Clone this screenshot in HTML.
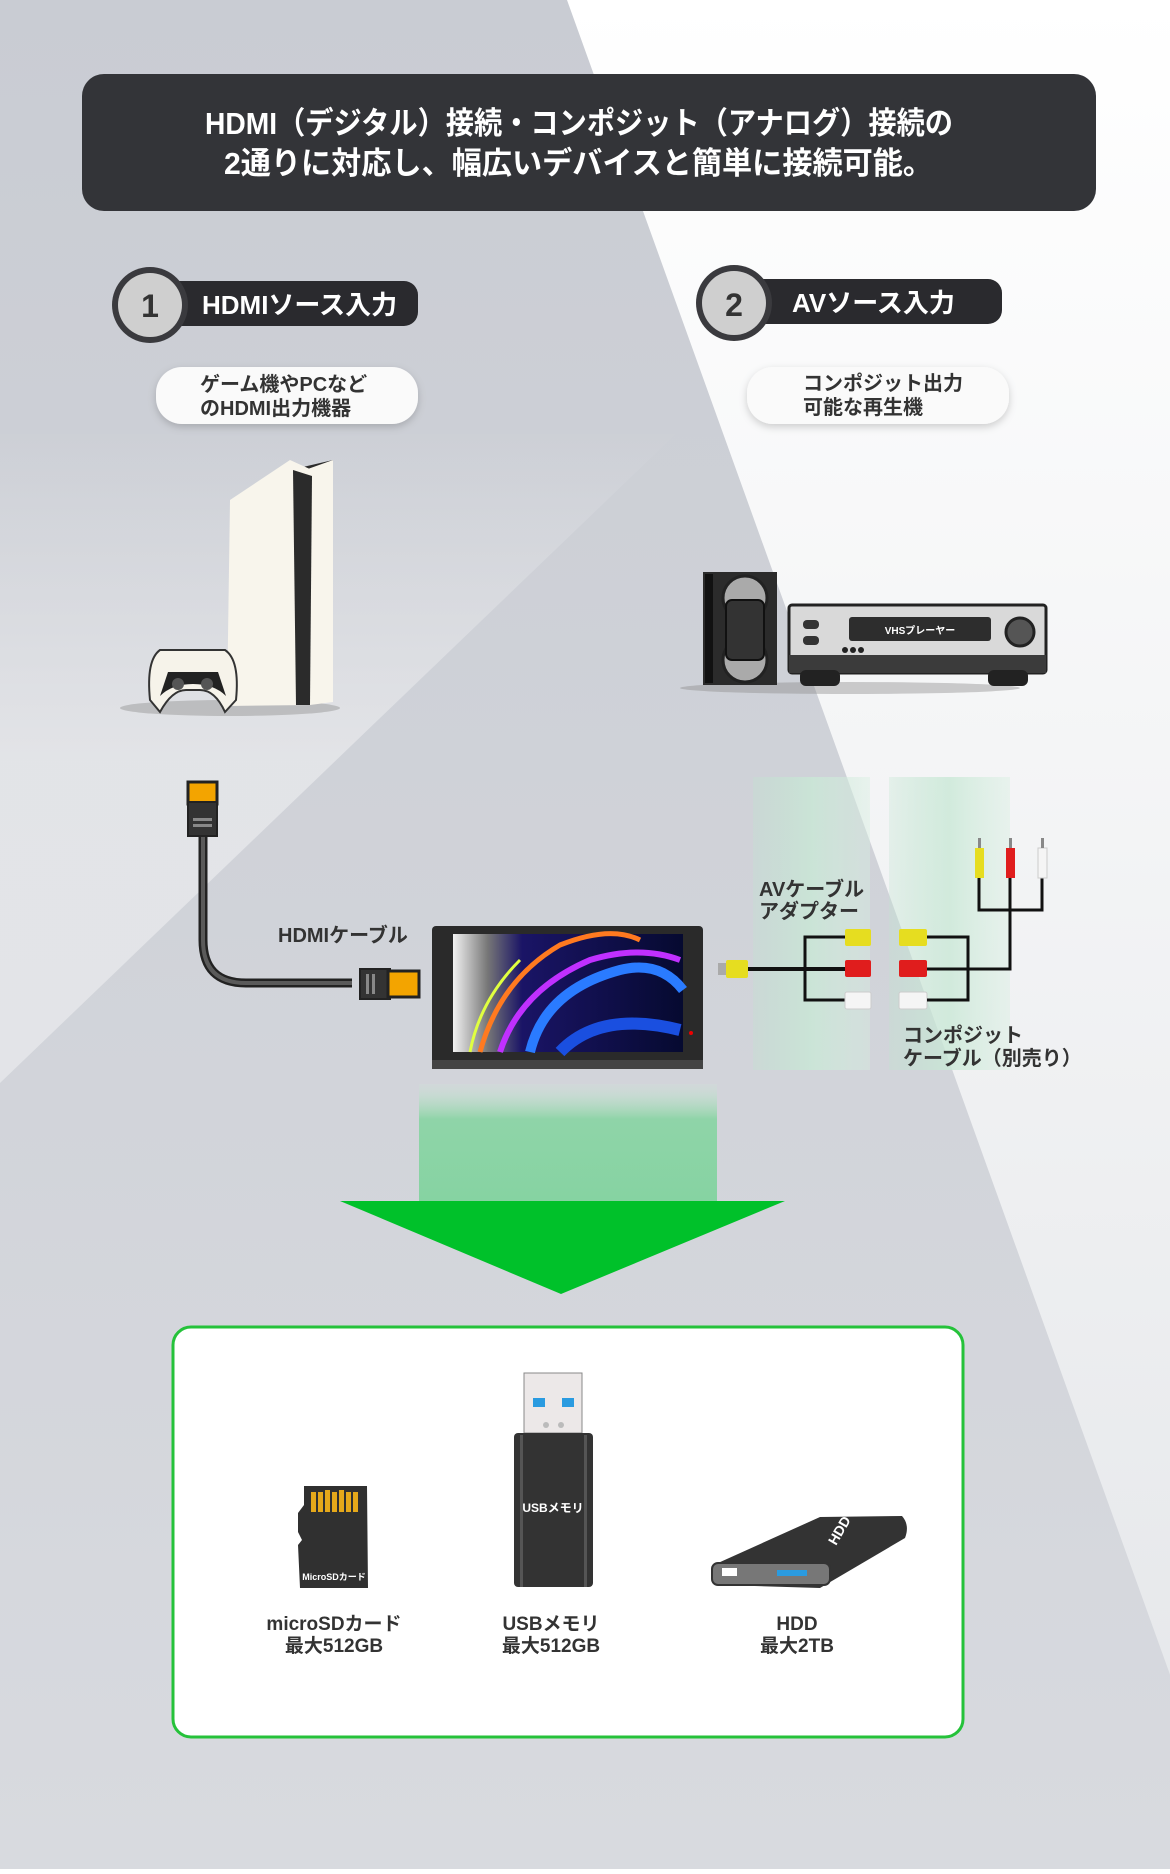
<!DOCTYPE html>
<html><head><meta charset="utf-8">
<style>
html,body{margin:0;padding:0;}
body{width:1170px;height:1869px;overflow:hidden;}
svg text{font-family:"Liberation Sans","Noto Sans CJK JP",sans-serif;font-weight:bold;}
</style></head>
<body>
<svg width="1170" height="1869" viewBox="0 0 1170 1869" xmlns="http://www.w3.org/2000/svg">
<defs>
<linearGradient id="bgL" x1="0" y1="0" x2="0" y2="1">
<stop offset="0" stop-color="#c9ccd3"/><stop offset="1" stop-color="#d8dadf"/></linearGradient>
<linearGradient id="bgR" x1="0" y1="0" x2="0" y2="1">
<stop offset="0" stop-color="#ffffff"/><stop offset="1" stop-color="#e4e6e9"/></linearGradient>
<linearGradient id="lw" x1="0" y1="430" x2="0" y2="760" gradientUnits="userSpaceOnUse">
<stop offset="0" stop-color="#e6e7ea" stop-opacity="0"/><stop offset="1" stop-color="#e6e7ea" stop-opacity="0.85"/></linearGradient>
<linearGradient id="grn" x1="0" y1="0" x2="0" y2="1">
<stop offset="0" stop-color="#cfe6d8" stop-opacity="0.2"/><stop offset="0.3" stop-color="#8fd4a8"/><stop offset="1" stop-color="#86d3a2"/></linearGradient>
<linearGradient id="pan" x1="0" y1="0" x2="1" y2="0">
<stop offset="0" stop-color="#bfe4cf" stop-opacity="0.3"/><stop offset="0.5" stop-color="#c9e8d6" stop-opacity="0.8"/><stop offset="1" stop-color="#d6eee0" stop-opacity="0.4"/></linearGradient>
<linearGradient id="scr" x1="0" y1="0" x2="1" y2="0">
<stop offset="0" stop-color="#f2f2f2"/><stop offset="0.15" stop-color="#777"/><stop offset="0.3" stop-color="#1a1466"/><stop offset="1" stop-color="#060a30"/></linearGradient>
<filter id="sh" x="-20%" y="-30%" width="140%" height="170%"><feDropShadow dx="0" dy="3" stdDeviation="4" flood-color="#000" flood-opacity="0.18"/></filter>
</defs>
<rect width="1170" height="1869" fill="url(#bgL)"/>
<polygon points="567,0 1170,0 1170,1869 1240,1869" fill="url(#bgR)"/>
<polygon points="0,1083 680,430 0,430" fill="url(#lw)"/>

<!-- title -->
<rect x="82" y="74" width="1014" height="137" rx="22" fill="#333438"/>
<text x="205" y="134" font-size="31" fill="#fff" textLength="748" lengthAdjust="spacingAndGlyphs">HDMI（デジタル）接続・コンポジット（アナログ）接続の</text>
<text x="224" y="174" font-size="31" fill="#fff" textLength="709" lengthAdjust="spacingAndGlyphs">2通りに対応し、幅広いデバイスと簡単に接続可能。</text>

<!-- badge 1 -->
<rect x="150" y="281" width="268" height="45" rx="14" fill="#2a2a2e"/>
<circle cx="150" cy="305" r="38" fill="#3a3a3e"/>
<circle cx="150" cy="305" r="32" fill="#cfcfcf"/>
<text x="150" y="317" font-size="32" fill="#333" text-anchor="middle" font-weight="normal">1</text>
<text x="202" y="314" font-size="26" fill="#fff">HDMIソース入力</text>
<!-- badge 2 -->
<rect x="734" y="279" width="268" height="45" rx="14" fill="#2a2a2e"/>
<circle cx="734" cy="303" r="38" fill="#3a3a3e"/>
<circle cx="734" cy="303" r="32" fill="#cfcfcf"/>
<text x="734" y="316" font-size="32" fill="#333" text-anchor="middle">2</text>
<text x="792" y="312" font-size="26" fill="#fff">AVソース入力</text>

<!-- pills -->
<rect x="156" y="367" width="262" height="57" rx="26" fill="#fafafa" filter="url(#sh)"/>
<text x="200" y="391" font-size="20" fill="#333">ゲーム機やPCなど</text>
<text x="200" y="415" font-size="20" fill="#333">のHDMI出力機器</text>
<rect x="747" y="367" width="262" height="57" rx="26" fill="#fafafa" filter="url(#sh)"/>
<text x="803" y="390" font-size="20" fill="#333">コンポジット出力</text>
<text x="803" y="414" font-size="20" fill="#333">可能な再生機</text>

<!-- PS5 -->
<ellipse cx="230" cy="708" rx="110" ry="8" fill="#999" opacity="0.5"/>
<polygon points="290,470 333,460 330,702 300,705" fill="#2b2b2b"/>
<polygon points="230,500 290,460 312,470 310,705 227,706" fill="#f8f5ec"/>
<polygon points="305,470 333,460 333,702 310,705" fill="#f8f5ec"/>
<polygon points="293,470 312,476 310,705 296,705" fill="#2b2b2b"/>
<path d="M150,700 Q146,660 160,650 L225,650 Q240,660 236,700 L225,712 Q215,690 200,690 L186,690 Q172,690 160,712 Z" fill="#f6f3ea" stroke="#333" stroke-width="2"/>
<path d="M168,672 L218,672 L226,696 Q214,684 193,684 Q172,684 160,696 Z" fill="#222"/>
<circle cx="178" cy="684" r="6" fill="#555"/><circle cx="207" cy="684" r="6" fill="#555"/>

<!-- VHS tape -->
<ellipse cx="850" cy="688" rx="170" ry="6" fill="#888" opacity="0.4"/>
<rect x="703" y="572" width="74" height="113" fill="#2b2b2b"/>
<rect x="705" y="574" width="8" height="109" fill="#111"/>
<ellipse cx="745" cy="598" rx="22" ry="22" fill="#aaa" stroke="#222" stroke-width="3"/>
<ellipse cx="745" cy="660" rx="22" ry="22" fill="#aaa" stroke="#222" stroke-width="3"/>
<rect x="726" y="600" width="38" height="60" rx="6" fill="#333" stroke="#111" stroke-width="2"/>
<!-- VHS player -->
<rect x="789" y="605" width="257" height="68" rx="3" fill="#d9d9d9" stroke="#222" stroke-width="3"/>
<rect x="789" y="655" width="257" height="18" fill="#3b3b3b"/>
<rect x="800" y="670" width="40" height="16" rx="6" fill="#222"/><rect x="988" y="670" width="40" height="16" rx="6" fill="#222"/>
<rect x="849" y="617" width="142" height="24" rx="3" fill="#2d2d2d"/>
<text x="920" y="634" font-size="10" fill="#fff" text-anchor="middle">VHSプレーヤー</text>
<rect x="803" y="620" width="16" height="9" rx="4" fill="#333"/><rect x="803" y="636" width="16" height="9" rx="4" fill="#333"/>
<circle cx="845" cy="650" r="3" fill="#222"/><circle cx="853" cy="650" r="3" fill="#222"/><circle cx="861" cy="650" r="3" fill="#222"/>
<circle cx="1020" cy="632" r="14" fill="#555" stroke="#222" stroke-width="3"/>

<!-- AV panels -->
<rect x="753" y="777" width="117" height="293" fill="url(#pan)"/>
<rect x="889" y="777" width="121" height="293" fill="url(#pan)"/>

<!-- HDMI cable -->
<path d="M203,834 L203,940 Q203,983 246,983 L352,983" fill="none" stroke="#222" stroke-width="9"/>
<path d="M203,834 L203,940 Q203,983 246,983 L352,983" fill="none" stroke="#5a5a5a" stroke-width="4"/>
<rect x="188" y="782" width="29" height="22" fill="#f3a400" stroke="#222" stroke-width="3"/>
<rect x="188" y="802" width="29" height="34" fill="#333" stroke="#222" stroke-width="2"/>
<rect x="193" y="818" width="19" height="3" fill="#888"/><rect x="193" y="824" width="19" height="3" fill="#888"/>
<rect x="360" y="969" width="30" height="30" fill="#333" stroke="#222" stroke-width="2"/>
<rect x="388" y="971" width="31" height="26" fill="#f3a400" stroke="#222" stroke-width="3"/>
<rect x="366" y="974" width="3" height="20" fill="#888"/><rect x="372" y="974" width="3" height="20" fill="#888"/>
<text x="278" y="942" font-size="20" fill="#333" font-weight="normal">HDMIケーブル</text>

<!-- monitor -->
<rect x="432" y="926" width="271" height="143" rx="4" fill="#2a2a2a"/>
<rect x="432" y="1060" width="271" height="9" fill="#444"/>
<rect x="453" y="934" width="230" height="118" fill="url(#scr)"/>
<path d="M480,1052 Q500,980 560,945 Q610,925 640,940" fill="none" stroke="#ff7a20" stroke-width="5"/>
<path d="M500,1052 Q520,990 590,960 Q640,945 680,960" fill="none" stroke="#c030ff" stroke-width="6"/>
<path d="M530,1052 Q545,990 620,970 Q660,960 683,990" fill="none" stroke="#2a7bff" stroke-width="10"/>
<path d="M470,1052 Q480,1000 520,960" fill="none" stroke="#e0ff40" stroke-width="3"/>
<path d="M560,1052 Q600,1010 680,1030" fill="none" stroke="#1a4fe0" stroke-width="12"/>
<circle cx="691" cy="1033" r="2" fill="#e00"/>

<!-- AV adapter -->
<path d="M735,969 L850,969" stroke="#111" stroke-width="4"/>
<path d="M850,937 L805,937 L805,1000 L850,1000" fill="none" stroke="#111" stroke-width="3"/>
<path d="M810,969 L850,969" stroke="#111" stroke-width="3"/>
<rect x="718" y="963" width="8" height="12" fill="#aaa"/><rect x="726" y="960" width="22" height="18" rx="2" fill="#e6dd20"/>
<rect x="845" y="929" width="26" height="17" rx="2" fill="#e6dd20"/>
<rect x="845" y="960" width="26" height="17" rx="2" fill="#e01d1d"/>
<rect x="845" y="992" width="26" height="17" rx="2" fill="#f5f5f5" stroke="#ccc"/>
<text x="759" y="896" font-size="20" fill="#333" font-weight="normal">AVケーブル</text>
<text x="759" y="918" font-size="20" fill="#333" font-weight="normal">アダプター</text>
<!-- composite cable -->
<rect x="899" y="929" width="28" height="17" rx="2" fill="#e6dd20"/>
<rect x="899" y="960" width="28" height="17" rx="2" fill="#e01d1d"/>
<rect x="899" y="992" width="28" height="17" rx="2" fill="#f5f5f5" stroke="#ccc"/>
<path d="M927,937 L968,937 L968,1000 L927,1000 M927,969 L1010,969 L1010,905" fill="none" stroke="#111" stroke-width="3"/>
<path d="M979,878 L979,910 L1010,910 L1042,910 L1042,878 M1010,878 L1010,910" fill="none" stroke="#111" stroke-width="3"/>
<rect x="975" y="848" width="9" height="30" fill="#e6dd20"/><rect x="1006" y="848" width="9" height="30" fill="#e01d1d"/><rect x="1038" y="848" width="9" height="30" fill="#f5f5f5" stroke="#ccc"/>
<rect x="978" y="838" width="3" height="10" fill="#888"/><rect x="1009" y="838" width="3" height="10" fill="#888"/><rect x="1041" y="838" width="3" height="10" fill="#888"/>
<text x="903" y="1042" font-size="20" fill="#333" font-weight="normal">コンポジット</text>
<text x="903" y="1065" font-size="20" fill="#333" font-weight="normal">ケーブル（別売り）</text>

<!-- arrow -->
<rect x="419" y="1084" width="298" height="117" fill="url(#grn)"/>
<polygon points="340,1201 785,1201 561,1294" fill="#00c12a"/>

<!-- storage box -->
<rect x="173" y="1327" width="790" height="410" rx="18" fill="#fff" stroke="#25c23a" stroke-width="3"/>
<!-- microSD -->
<path d="M304,1486 L367,1486 L368,1588 L300,1588 L298,1545 L302,1540 L298,1532 L298,1513 L304,1505 Z" fill="#303030"/>
<g fill="#e5a81a"><rect x="311" y="1492" width="5" height="20"/><rect x="318" y="1492" width="5" height="20"/><rect x="325" y="1490" width="5" height="22"/><rect x="332" y="1492" width="5" height="20"/><rect x="339" y="1490" width="5" height="22"/><rect x="346" y="1492" width="5" height="20"/><rect x="353" y="1492" width="5" height="20"/></g>
<text x="334" y="1580" font-size="9" fill="#fff" text-anchor="middle" font-weight="normal">MicroSDカード</text>
<text x="334" y="1630" font-size="19" fill="#333" text-anchor="middle" font-weight="normal">microSDカード</text>
<text x="334" y="1652" font-size="19" fill="#333" text-anchor="middle" font-weight="normal">最大512GB</text>
<!-- USB -->
<rect x="524" y="1373" width="58" height="60" fill="#ece8e8" stroke="#888"/>
<rect x="533" y="1398" width="12" height="9" fill="#2a9be0"/><rect x="562" y="1398" width="12" height="9" fill="#2a9be0"/>
<circle cx="546" cy="1425" r="3" fill="#bbb"/><circle cx="561" cy="1425" r="3" fill="#bbb"/>
<rect x="514" y="1433" width="79" height="154" rx="4" fill="#333"/>
<rect x="520" y="1435" width="3" height="152" fill="#555"/><rect x="584" y="1435" width="3" height="152" fill="#555"/>
<text x="553" y="1512" font-size="12" fill="#fff" text-anchor="middle" font-weight="normal">USBメモリ</text>
<text x="551" y="1630" font-size="19" fill="#333" text-anchor="middle" font-weight="normal">USBメモリ</text>
<text x="551" y="1652" font-size="19" fill="#333" text-anchor="middle" font-weight="normal">最大512GB</text>
<!-- HDD -->
<path d="M718,1563 L820,1517 L902,1516 Q910,1525 905,1538 L820,1588 L722,1585 Q712,1575 718,1563 Z" fill="#333"/>
<rect x="712" y="1563" width="118" height="22" rx="6" fill="#777" stroke="#333" stroke-width="2"/>
<rect x="722" y="1568" width="15" height="8" fill="#fff"/>
<rect x="777" y="1570" width="30" height="6" fill="#2a9be0"/>
<text x="836" y="1546" font-size="14" fill="#fff" transform="rotate(-60 836 1546)" font-weight="normal">HDD</text>
<text x="797" y="1630" font-size="19" fill="#333" text-anchor="middle" font-weight="normal">HDD</text>
<text x="797" y="1652" font-size="19" fill="#333" text-anchor="middle" font-weight="normal">最大2TB</text>
</svg>
</body></html>
